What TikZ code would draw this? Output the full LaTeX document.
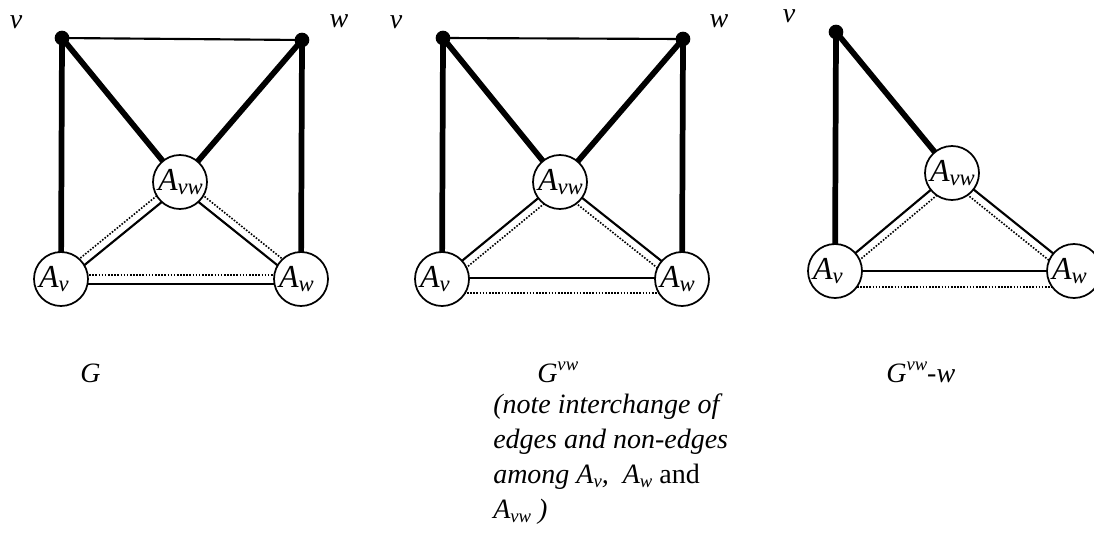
\documentclass[tikz,border=0pt]{standalone}
\usepackage{fontspec}
\setmainfont{Liberation Serif}
\usetikzlibrary{calc}
\pgfdeclarelayer{bg}
\pgfsetlayers{bg,main}
\newcommand\lsub[1]{\raisebox{-3pt}{\fontsize{17pt}{17pt}\selectfont #1}}
\newcommand\tsub[1]{\raisebox{-3pt}{\fontsize{14pt}{14pt}\selectfont #1}}
\newcommand\tsup[1]{\raisebox{8.5pt}{\fontsize{14pt}{14pt}\selectfont #1}}
\newcommand\ab[1]{\makebox[33pt][l]{A\lsub{#1}}}
% parallel line on the left / right side of a->b
\newcommand\pleft[4]{\draw[#1] ($(#2.center)!#4!90:(#3.center)$) -- ($(#3.center)!#4!-90:(#2.center)$);}
\newcommand\pright[4]{\draw[#1] ($(#2.center)!#4!-90:(#3.center)$) -- ($(#3.center)!#4!90:(#2.center)$);}
\begin{document}
\begin{tikzpicture}[x=0.75pt,y=-0.75pt,
  vtx/.style={circle, draw, line width=1.3pt, fill=white, minimum size=40.5pt, inner sep=0pt,
              font=\fontsize{24pt}{24pt}\selectfont\itshape},
  dotv/.style={circle, fill=black, minimum size=11pt, inner sep=0pt},
  lbl/.style={font=\fontsize{21pt}{24pt}\selectfont\itshape, inner sep=0pt},
  heavy/.style={line width=4.3pt},
  solidln/.style={line width=1.6pt},
  dotln/.style={line width=1.2pt, dash pattern=on 1.2pt off 1.15pt},
]
\useasboundingbox (0,0) rectangle (1094,535);

% ---------- graph G ----------
\node[dotv] (v1) at (62,38) {};
\node[dotv] (w1) at (302,40) {};
\node[vtx] (Avw1) at (180,182) {\ab{vw}};
\node[vtx] (Av1) at (61,279) {\ab{v}};
\node[vtx] (Aw1) at (301,279) {\ab{w}};
\node[lbl] (lv1) at (16,22) {v};
\node[lbl] (lw1) at (339,21) {w};
\begin{pgfonlayer}{bg}
\draw[solidln] (v1.center) -- (w1.center);
\draw[heavy] (v1.center) -- (Av1.center);
\draw[heavy] (w1.center) -- (Aw1.center);
\draw[heavy] (v1.center) -- (Avw1.center);
\draw[heavy] (w1.center) -- (Avw1.center);
\pleft{dotln}{Av1}{Avw1}{3pt}
\pright{solidln}{Av1}{Avw1}{3pt}
\pleft{dotln}{Avw1}{Aw1}{3pt}
\pright{solidln}{Avw1}{Aw1}{3pt}
\pleft{dotln}{Av1}{Aw1}{3pt}
\pright{solidln}{Av1}{Aw1}{3.5pt}
\end{pgfonlayer}

% ---------- graph G^vw ----------
\node[dotv] (v2) at (443,38) {};
\node[dotv] (w2) at (683,39) {};
\node[vtx] (Avw2) at (560,182) {\ab{vw}};
\node[vtx] (Av2) at (442,279) {\ab{v}};
\node[vtx] (Aw2) at (682,279) {\ab{w}};
\node[lbl] (lv2) at (396,22) {v};
\node[lbl] (lw2) at (719,21) {w};
\begin{pgfonlayer}{bg}
\draw[solidln] (v2.center) -- (w2.center);
\draw[heavy] (v2.center) -- (Av2.center);
\draw[heavy] (w2.center) -- (Aw2.center);
\draw[heavy] (v2.center) -- (Avw2.center);
\draw[heavy] (w2.center) -- (Avw2.center);
\pleft{solidln}{Av2}{Avw2}{1pt}
\pright{dotln}{Av2}{Avw2}{5pt}
\pleft{solidln}{Avw2}{Aw2}{1pt}
\pright{dotln}{Avw2}{Aw2}{5pt}
\pleft{solidln}{Av2}{Aw2}{0.75pt}
\pright{dotln}{Av2}{Aw2}{10.5pt}
\end{pgfonlayer}

% ---------- graph G^vw - w ----------
\node[dotv] (v3) at (836,32) {};
\node[vtx] (Avw3) at (952,173) {\ab{vw}};
\node[vtx] (Av3) at (835,271) {\ab{v}};
\node[vtx] (Aw3) at (1074,271) {\ab{w}};
\node[lbl] (lv3) at (789,16) {v};
\begin{pgfonlayer}{bg}
\draw[heavy] (v3.center) -- (Av3.center);
\draw[heavy] (v3.center) -- (Avw3.center);
\pleft{solidln}{Av3}{Avw3}{0.5pt}
\pright{dotln}{Av3}{Avw3}{5.5pt}
\pleft{solidln}{Avw3}{Aw3}{0.5pt}
\pright{dotln}{Avw3}{Aw3}{5.5pt}
\pleft{solidln}{Av3}{Aw3}{0pt}
\pright{dotln}{Av3}{Aw3}{12pt}
\end{pgfonlayer}

% ---------- captions ----------
\node[lbl, anchor=base west] (cG) at (80,382) {G};
\node[lbl, anchor=base west] (cGvw) at (537,382) {G\tsup{vw}};
\node[lbl, anchor=base west] (n1) at (493,413) {(note interchange of};
\node[lbl, anchor=base west] (n2) at (493,448) {edges and non-edges};
\node[lbl, anchor=base west] (n3) at (493,483) {among A\tsub{v},~ A\tsub{w} \upshape and};
\node[lbl, anchor=base west] (n4) at (493,518) {A\tsub{vw} )};
\node[lbl, anchor=base west] (cG3) at (886,382) {G\tsup{vw}-w};
\end{tikzpicture}
\end{document}
